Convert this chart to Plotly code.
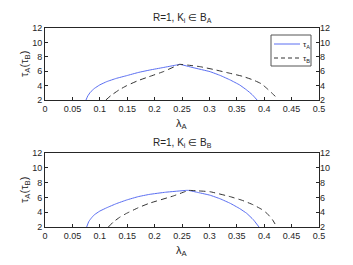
import plotly.graph_objects as go

# Top panel: R=1, K_i in B_A
lamA_top_A = [0.0748, 0.078, 0.083, 0.09, 0.1, 0.1126, 0.13, 0.149, 0.17, 0.1916, 0.215, 0.24, 0.246, 0.27, 0.301, 0.32, 0.338, 0.355, 0.368, 0.378, 0.387]
tauA_top = [2.0, 2.55, 3.1, 3.6, 4.1, 4.55, 5.0, 5.38, 5.82, 6.17, 6.5, 6.86, 6.95, 6.5, 5.94, 5.4, 4.78, 4.1, 3.39, 2.75, 2.0]
lamA_top_B = [0.111, 0.12, 0.135, 0.149, 0.17, 0.19, 0.216, 0.24, 0.246, 0.26, 0.283, 0.31, 0.338, 0.36, 0.38, 0.395, 0.405, 0.415, 0.424]
tauB_top = [2.0, 2.6, 3.4, 3.99, 4.7, 5.24, 5.94, 6.76, 6.95, 6.85, 6.63, 6.2, 5.7, 5.3, 4.78, 4.25, 3.6, 2.9, 2.2]

# Bottom panel: R=1, K_i in B_B
lamA_bot_A = [0.076, 0.08, 0.085, 0.09, 0.1, 0.1126, 0.13, 0.149, 0.17, 0.19, 0.22, 0.258, 0.2616, 0.28, 0.301, 0.32, 0.338, 0.355, 0.368, 0.38, 0.3905]
tauA_bot = [2.0, 2.75, 3.25, 3.65, 4.15, 4.6, 5.15, 5.65, 6.1, 6.4, 6.7, 6.95, 6.95, 6.65, 6.3, 5.8, 5.2, 4.5, 3.85, 3.0, 2.0]
lamA_bot_B = [0.1156, 0.125, 0.137, 0.149, 0.17, 0.19, 0.234, 0.258, 0.2616, 0.28, 0.301, 0.338, 0.36, 0.38, 0.395, 0.405, 0.415, 0.423]
tauB_bot = [2.0, 2.7, 3.35, 3.85, 4.6, 5.2, 6.19, 6.85, 6.95, 6.88, 6.77, 6.1, 5.6, 5.0, 4.4, 3.85, 3.0, 2.0]

x_ticks = [0, 0.05, 0.1, 0.15, 0.2, 0.25, 0.3, 0.35, 0.4, 0.45, 0.5]
x_ticklabels = ["0", "0.05", "0.1", "0.15", "0.2", "0.25", "0.3", "0.35", "0.4", "0.45", "0.5"]
y_ticks = [2, 4, 6, 8, 10, 12]

titles = ["R=1, K<sub>i</sub> \u2208 B<sub>A</sub>", "R=1, K<sub>i</sub> \u2208 B<sub>B</sub>"]
legend_labels = ["\u03c4<sub>A</sub>", "\u03c4<sub>B</sub>"]

BLUE = "#5a6ef2"
DARK = "#262626"
FONT = "Liberation Sans"
W, H = 353, 265

def px_x(p):
    return p / W

def px_y(p):
    return 1 - p / H

fig = go.Figure()

panels = [
    (lamA_top_A, tauA_top, lamA_top_B, tauB_top, 28, 100),
    (lamA_bot_A, tauA_bot, lamA_bot_B, tauB_bot, 153, 227),
]

xdom = [px_x(45), px_x(319)]
for i, (xa, ya, xb, yb, top, bot) in enumerate(panels):
    xn = "x" if i == 0 else "x2"
    yn = "y" if i == 0 else "y3"
    yr = "y2" if i == 0 else "y4"
    fig.add_trace(go.Scatter(x=xa, y=ya, mode="lines", line=dict(color=BLUE, width=1, shape="spline", smoothing=0.3),
                             name=legend_labels[0], xaxis=xn, yaxis=yn, showlegend=False))
    fig.add_trace(go.Scatter(x=xb, y=yb, mode="lines", line=dict(color="#333333", width=1, dash="6px,4px", shape="spline", smoothing=0.3),
                             name=legend_labels[1], xaxis=xn, yaxis=yn, showlegend=False))
    fig.add_trace(go.Scatter(x=[None], y=[None], xaxis=xn, yaxis=yr, showlegend=False, hoverinfo="skip"))

    ydom = [px_y(bot), px_y(top)]
    axx = dict(domain=xdom, range=[0, 0.5], tickvals=x_ticks, ticktext=x_ticklabels, ticks="inside", ticklen=3,
               tickcolor=DARK, showgrid=False, zeroline=False, showline=True, linecolor=DARK, linewidth=1,
               mirror=True, tickfont=dict(family=FONT, size=9, color=DARK), automargin=False,
               anchor=yn, fixedrange=True)
    axy = dict(domain=ydom, range=[2, 12], tickvals=y_ticks, ticks="inside", ticklen=3, tickcolor=DARK,
               showgrid=False, zeroline=False, showline=True, linecolor=DARK, linewidth=1, mirror=True,
               tickfont=dict(family=FONT, size=9, color=DARK), anchor=xn, automargin=False, fixedrange=True)
    axyr = dict(domain=ydom, range=[2, 12], tickvals=y_ticks, ticks="inside", ticklen=3, tickcolor=DARK,
                showgrid=False, zeroline=False, showline=False, side="right", overlaying=yn,
                tickfont=dict(family=FONT, size=9, color=DARK), anchor=xn, automargin=False, fixedrange=True)
    if i == 0:
        fig.update_layout(xaxis=axx, yaxis=axy, yaxis2=axyr)
    else:
        fig.update_layout(xaxis2=axx, yaxis3=axy, yaxis4=axyr)

    # title
    fig.add_annotation(text=titles[i], x=(xdom[0] + xdom[1]) / 2, y=px_y(top - 10), xref="paper", yref="paper",
                       showarrow=False, font=dict(family=FONT, size=10, color=DARK), yanchor="middle")
    # x label
    fig.add_annotation(text="\u03bb<sub>A</sub>", x=(xdom[0] + xdom[1]) / 2, y=px_y(bot + 24), xref="paper", yref="paper",
                       showarrow=False, font=dict(family=FONT, size=11, color=DARK), yanchor="middle")
    # y label
    fig.add_annotation(text="\u03c4<sub>A</sub>(\u03c4<sub>B</sub>)", x=px_x(25), y=px_y((top + bot) / 2), xref="paper", yref="paper",
                       showarrow=False, textangle=-90, font=dict(family=FONT, size=11, color=DARK),
                       xanchor="center", yanchor="middle")

# custom compact legend (top panel)
lx0, lx1, ly0, ly1 = 271, 311, 35, 66
fig.add_shape(type="rect", xref="paper", yref="paper", x0=px_x(lx0), x1=px_x(lx1), y0=px_y(ly1), y1=px_y(ly0),
              line=dict(color="#555555", width=1), fillcolor="white", layer="above")
for k, (col, dash) in enumerate([(BLUE, "solid"), ("#333333", "4px,3px")]):
    yy = 44 + k * 14
    fig.add_shape(type="line", xref="paper", yref="paper", x0=px_x(274), x1=px_x(300), y0=px_y(yy), y1=px_y(yy),
                  line=dict(color=col, width=1, dash=dash), layer="above")
    fig.add_annotation(text=legend_labels[k], x=px_x(301), y=px_y(yy + 1), xref="paper", yref="paper",
                       showarrow=False, xanchor="left", yanchor="middle",
                       font=dict(family=FONT, size=8, color=DARK))

fig.update_layout(
    width=W, height=H, margin=dict(l=0, r=0, t=0, b=0, autoexpand=False),
    paper_bgcolor="white", plot_bgcolor="white",
    showlegend=False,
)

fig.write_html("out.html", config={"displayModeBar": False},
               post_script="document.body.style.margin='0';document.body.style.padding='0';")
